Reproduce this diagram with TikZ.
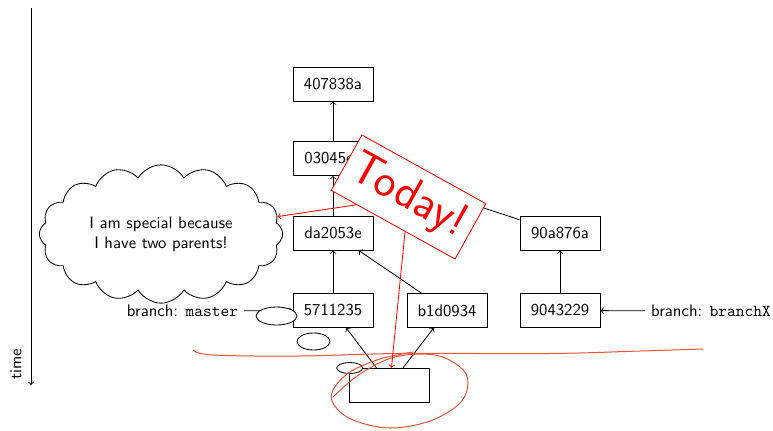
\documentclass[tikz,border=0pt]{standalone}
\usetikzlibrary{shapes.symbols,shapes.geometric}
\begin{document}
\begin{tikzpicture}[x=0.6pt,y=0.6pt,font=\sffamily,line width=0.5pt,
  commit/.style={draw,minimum width=48pt,minimum height=20.4pt,inner sep=0pt},
  link/.style={->},
  blob/.style={draw,ellipse,fill=white,inner sep=0pt},
  note/.style={->,red},
  scribble/.style={draw={rgb,255:red,232;green,84;blue,60},line width=0.6pt,line cap=round}]
\useasboundingbox (0,0) rectangle (773,-430);

% time axis
\coordinate (ttop) at (31,-8);
\coordinate (tbot) at (31,-385);
\draw[->] (ttop) -- (tbot);
\node[rotate=90] (timelbl) at (16,-364) {time};

% commits
\node[commit] (c407) at (333,-84) {407838a};
\node[commit] (c030) at (333,-158.5) {03045ca};
\node[commit] (cda2) at (333,-233) {da2053e};
\node[commit] (c571) at (333,-310.5) {5711235};
\node[commit] (cb1d) at (447,-310.5) {b1d0934};
\node[commit] (c90a) at (560,-233) {90a876a};
\node[commit] (c904) at (560,-310.5) {9043229};
\node[commit] (cnew) at (389.7,-385.3) {};

% branch labels
\node (lmaster) at (182.5,-311) {branch: \texttt{master}};
\node (lbranchx) at (711,-311) {branch: \texttt{branchX}};

% parent links
\draw[link] (c030) -- (c407);
\draw[link] (cda2) -- (c030);
\draw[link] (c571) -- (cda2);
\draw[link] (cb1d) -- (cda2);
\draw[link] (c90a) -- (c030);
\draw[link] (c904) -- (c90a);
\draw[link] (cnew) -- (c571);
\draw[link] (cnew) -- (cb1d);
\draw[link] (lmaster) -- (c571);
\draw[link] (lbranchx) -- (c904);

% cloud note
\node[cloud,draw,cloud puffs=16,cloud puff arc=120,cloud ignores aspect,
      minimum width=146pt,minimum height=83pt,align=center,inner sep=0pt]
      (cloudnote) at (161,-234) {I am special because\\I have two parents!};

% ellipses
\node[blob,minimum width=24.6pt,minimum height=10.8pt] (e1) at (276.5,-316) {};
\node[blob,minimum width=19.8pt,minimum height=10.2pt] (e2) at (313.5,-341.5) {};
\node[blob,minimum width=15.6pt,minimum height=6.6pt] (e3) at (349.7,-368) {};

% hand-drawn strokes
\draw[scribble] plot[smooth,tension=0.6] coordinates {(193,-350) (213,-355) (300,-356) (400,-353.5) (550,-353.5) (640,-351) (703,-349)};
\draw[scribble] plot[smooth,tension=0.6] coordinates {(333,-397) (360,-374) (395,-357) (435,-355) (460,-367) (468,-382) (460,-403) (430,-421) (390,-428) (353,-420) (334,-405) (333,-390) (350,-372) (380,-359) (413,-352)};

% today marker
\node[draw=red,fill=white,text=red,rotate=-29,minimum width=85pt,minimum height=38pt,
      inner sep=0pt,font=\sffamily\fontsize{28}{34}\selectfont] (today) at (408.5,-197) {Today!};
\draw[note] (today) -- (cloudnote);
\draw[note] (today) -- (cnew);
\end{tikzpicture}
\end{document}
